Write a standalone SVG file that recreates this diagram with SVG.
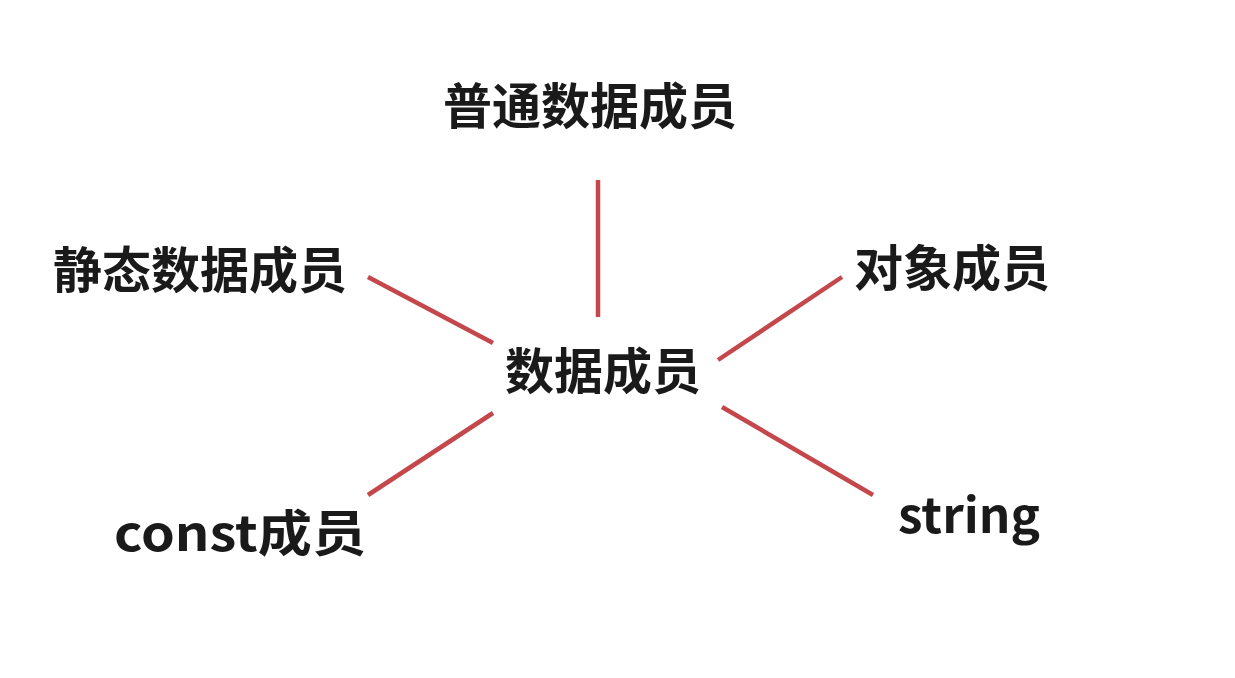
<svg xmlns="http://www.w3.org/2000/svg" width="1235" height="678" viewBox="0 0 1235 678">
<style>
text{font-family:"Noto Sans CJK SC","Noto Sans",sans-serif;font-weight:bold;font-size:49px;fill:#1a1a1a;text-anchor:middle}
.c line{stroke:#c4474b;stroke-width:4.5;stroke-linecap:butt}
</style>
<rect width="1235" height="678" fill="#ffffff"/>
<g class="c" id="connectors">
<line x1="598" y1="180" x2="598" y2="317"/>
<line x1="368" y1="277" x2="493" y2="343"/>
<line x1="718" y1="360" x2="842" y2="277"/>
<line x1="493" y1="413" x2="368" y2="495"/>
<line x1="722" y1="407" x2="873" y2="495"/>
</g>
<g id="center"><text x="603" y="389">数据成员</text></g>
<g id="normal"><text x="590" y="124">普通数据成员</text></g>
<g id="static"><text x="200" y="288">静态数据成员</text></g>
<g id="object"><text x="952" y="286">对象成员</text></g>
<g id="const"><text x="240" y="551" textLength="252" lengthAdjust="spacingAndGlyphs">const成员</text></g>
<g id="string"><text x="969" y="533" textLength="142" lengthAdjust="spacingAndGlyphs">string</text></g>
</svg>
